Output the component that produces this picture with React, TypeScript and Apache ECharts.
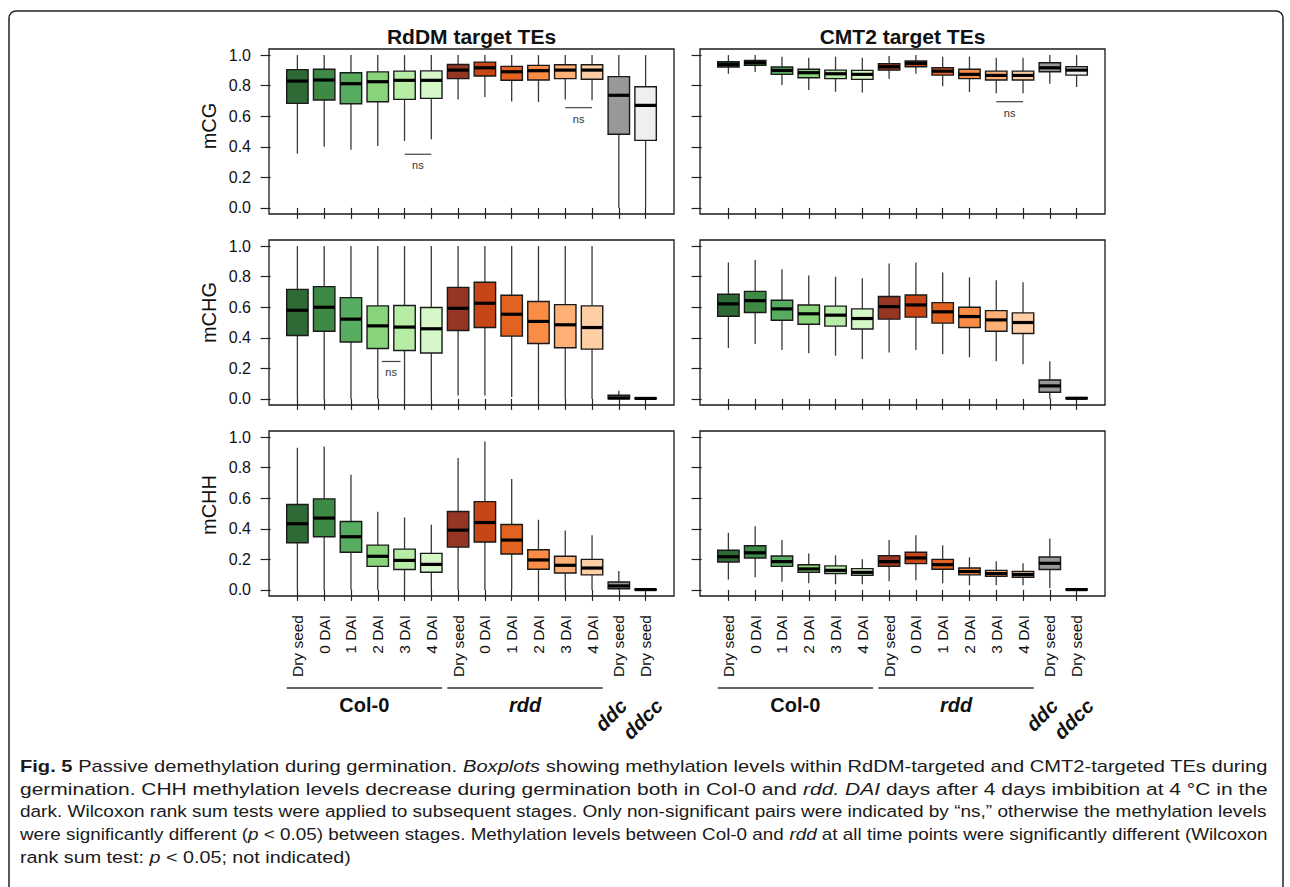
import React, { useEffect, useRef } from 'react';
import * as echarts from 'echarts';

// ---------- data ----------
const categories = ['Dry seed', '0 DAI', '1 DAI', '2 DAI', '3 DAI', '4 DAI', 'Dry seed', '0 DAI', '1 DAI', '2 DAI', '3 DAI', '4 DAI', 'Dry seed', 'Dry seed'];
const boxColors = ['#2d6a35', '#3e8a45', '#58ac60', '#89d47b', '#b6eca6', '#d6f8c9', '#963524', '#c84516', '#e2631f', '#fb8c45', '#feb077', '#fecfa4', '#98989a', '#efefef'];
const yTicks = [0, 0.2, 0.4, 0.6, 0.8, 1.0];
const panelTitles = ['RdDM target TEs', 'CMT2 target TEs'];
const rowNames = ['mCG', 'mCHG', 'mCHH'];
const groupNames = ['Col-0', 'rdd'];
const mutantNames = ['ddc', 'ddcc'];

// each box: [min, Q1, median, Q3, max]
const rddmCG = [
  [0.355, 0.684, 0.83, 0.905, 1.0], [0.40, 0.706, 0.837, 0.907, 1.0], [0.38, 0.682, 0.813, 0.885, 1.0],
  [0.405, 0.695, 0.826, 0.89, 1.0], [0.438, 0.71, 0.835, 0.895, 1.0], [0.449, 0.717, 0.835, 0.897, 1.0],
  [0.71, 0.846, 0.902, 0.939, 1.0], [0.726, 0.863, 0.917, 0.954, 1.0], [0.697, 0.835, 0.891, 0.926, 1.0],
  [0.693, 0.837, 0.898, 0.933, 1.0], [0.71, 0.846, 0.902, 0.937, 1.0], [0.704, 0.842, 0.902, 0.937, 1.0],
  [0, 0.482, 0.737, 0.859, 1.0], [0, 0.442, 0.671, 0.793, 1.0],
];
const cmt2CG = [
  [0.878, 0.922, 0.939, 0.957, 1.0], [0.889, 0.933, 0.95, 0.965, 1.0], [0.804, 0.874, 0.9, 0.922, 0.99],
  [0.771, 0.852, 0.885, 0.907, 0.983], [0.76, 0.846, 0.878, 0.902, 0.99], [0.756, 0.841, 0.874, 0.9, 0.983],
  [0.846, 0.902, 0.924, 0.944, 0.994], [0.878, 0.924, 0.946, 0.961, 1.0], [0.797, 0.869, 0.895, 0.917, 0.99],
  [0.758, 0.846, 0.874, 0.907, 0.99], [0.75, 0.837, 0.867, 0.895, 0.983], [0.75, 0.837, 0.867, 0.895, 0.983],
  [0.813, 0.891, 0.917, 0.95, 1.0], [0.791, 0.869, 0.902, 0.924, 1.0],
];
const rddmCHG = [
  [0, 0.415, 0.58, 0.717, 1.0], [0, 0.443, 0.6, 0.735, 1.0], [0, 0.372, 0.522, 0.663, 1.0],
  [0, 0.33, 0.478, 0.609, 1.0], [0, 0.317, 0.47, 0.611, 1.0], [0, 0.3, 0.459, 0.598, 1.0],
  [0.022, 0.448, 0.593, 0.73, 1.0], [0.022, 0.467, 0.626, 0.763, 1.0], [0.013, 0.411, 0.554, 0.678, 1.0],
  [0, 0.363, 0.507, 0.637, 1.0], [0, 0.335, 0.485, 0.617, 1.0], [0, 0.326, 0.467, 0.609, 1.0],
  [0, 0.0, 0.006, 0.024, 0.054], [0, 0.001, 0.003, 0.006, 0.01],
];
const cmt2CHG = [
  [0.333, 0.541, 0.622, 0.685, 0.893], [0.359, 0.565, 0.643, 0.704, 0.909], [0.32, 0.515, 0.589, 0.646, 0.848],
  [0.298, 0.489, 0.557, 0.615, 0.807], [0.283, 0.476, 0.548, 0.607, 0.8], [0.261, 0.457, 0.526, 0.589, 0.789],
  [0.304, 0.522, 0.604, 0.67, 0.887], [0.32, 0.535, 0.615, 0.68, 0.893], [0.293, 0.496, 0.57, 0.63, 0.828],
  [0.272, 0.467, 0.539, 0.6, 0.796], [0.246, 0.443, 0.517, 0.578, 0.776], [0.226, 0.428, 0.5, 0.563, 0.763],
  [0, 0.043, 0.085, 0.124, 0.246], [0, 0.001, 0.004, 0.008, 0.013],
];
const rddmCHH = [
  [0, 0.309, 0.433, 0.559, 0.93], [0, 0.348, 0.47, 0.596, 0.939], [0, 0.246, 0.348, 0.448, 0.754],
  [0, 0.154, 0.22, 0.293, 0.511], [0, 0.133, 0.193, 0.267, 0.474], [0, 0.115, 0.167, 0.239, 0.426],
  [0, 0.28, 0.391, 0.513, 0.863], [0, 0.313, 0.441, 0.578, 0.972], [0, 0.235, 0.326, 0.428, 0.726],
  [0, 0.135, 0.196, 0.263, 0.459], [0, 0.111, 0.161, 0.22, 0.389], [0, 0.098, 0.143, 0.2, 0.357],
  [0, 0.007, 0.026, 0.052, 0.124], [0, 0.0, 0.002, 0.005, 0.007],
];
const cmt2CHH = [
  [0.067, 0.183, 0.217, 0.259, 0.374], [0.083, 0.209, 0.243, 0.289, 0.417], [0.054, 0.154, 0.185, 0.222, 0.326],
  [0.043, 0.115, 0.137, 0.165, 0.239], [0.037, 0.107, 0.128, 0.157, 0.226], [0.037, 0.096, 0.115, 0.139, 0.2],
  [0.057, 0.154, 0.185, 0.224, 0.326], [0.063, 0.172, 0.209, 0.246, 0.357], [0.043, 0.135, 0.165, 0.2, 0.293],
  [0.03, 0.098, 0.12, 0.143, 0.213], [0.03, 0.089, 0.107, 0.128, 0.187], [0.03, 0.083, 0.1, 0.12, 0.174],
  [0.011, 0.133, 0.174, 0.215, 0.337], [0, 0.0, 0.002, 0.005, 0.007],
];
// non-significant pairs: [panel, xFrom, xTo, y]
const nsMarks = [
  [0, 5, 6, 0.351],
  [0, 11, 12, 0.656],
  [1, 11, 12, 0.695],
  [2, 4.15, 4.85, 0.245],
];
// group underline spans in x units
const groupSpans = [[0.6, 6.4], [6.6, 12.4]];

const captionLines: string[][][] = [
  [['b', 'Fig. 5'], ['n', ' Passive demethylation during germination. '], ['i', 'Boxplots'], ['n', ' showing methylation levels within RdDM-targeted and CMT2-targeted TEs during']],
  [['n', 'germination. CHH methylation levels decrease during germination both in Col-0 and '], ['i', 'rdd.'], ['n', ' '], ['i', 'DAI'], ['n', ' days after 4 days imbibition at 4 °C in the']],
  [['n', 'dark. Wilcoxon rank sum tests were applied to subsequent stages. Only non-significant pairs were indicated by “ns,” otherwise the methylation levels']],
  [['n', 'were significantly different ('], ['i', 'p'], ['n', ' < 0.05) between stages. Methylation levels between Col-0 and '], ['i', 'rdd'], ['n', ' at all time points were significantly different (Wilcoxon']],
  [['n', 'rank sum test: '], ['i', 'p'], ['n', ' < 0.05; not indicated)']],
];

// ---------- layout ----------
const FONT = 'Liberation Sans, Arial, Helvetica, sans-serif';
const CAP_FONT = 'Liberation Sans Narrow, Liberation Sans, Arial, sans-serif';
const X_MIN = -0.06, X_MAX = 15.06, Y_MIN = -0.04, Y_MAX = 1.04;
const COL_LEFT = [269, 700];
const ROW_TOP = [49, 240, 431];
const GRID_W = 405, GRID_H = 165;
const BOX_W = 0.8;
const CAP_SIZE = 17;
const CAP_X = 20, CAP_RIGHT = 1268;
const CAP_Y = [766, 789, 811, 834, 857];

const panels = [rddmCG, cmt2CG, rddmCHG, cmt2CHG, rddmCHH, cmt2CHH];
const xTickVals = categories.map((_, i) => i + 1);

function renderBox(params: any, api: any) {
  const x = api.value(0);
  const pMin = api.coord([x, api.value(1)]);
  const pQ1 = api.coord([x, api.value(2)]);
  const pMed = api.coord([x, api.value(3)]);
  const pQ3 = api.coord([x, api.value(4)]);
  const pMax = api.coord([x, api.value(5)]);
  const hw = api.size([BOX_W, 0])[0] / 2;
  const cx = pMed[0];
  const color = boxColors[params.dataIndex];
  const wStyle = { stroke: '#3a3a3a', lineWidth: 1.3 };
  return {
    type: 'group',
    children: [
      { type: 'line', shape: { x1: cx, y1: pMax[1], x2: cx, y2: pQ3[1] }, style: wStyle },
      { type: 'line', shape: { x1: cx, y1: pQ1[1], x2: cx, y2: pMin[1] }, style: wStyle },
      { type: 'rect', shape: { x: cx - hw, y: pQ3[1], width: 2 * hw, height: Math.max(pQ1[1] - pQ3[1], 0.5) }, style: { fill: color, stroke: '#1a1a1a', lineWidth: 1.4 } },
      { type: 'line', shape: { x1: cx - hw, y1: pMed[1], x2: cx + hw, y2: pMed[1] }, style: { stroke: '#000', lineWidth: 3.2 } },
    ],
  };
}

function renderNs(params: any, api: any) {
  const a = api.coord([api.value(0), api.value(2)]);
  const b = api.coord([api.value(1), api.value(2)]);
  return {
    type: 'group',
    children: [
      { type: 'line', shape: { x1: a[0], y1: a[1], x2: b[0], y2: b[1] }, style: { stroke: '#444', lineWidth: 1.2 } },
      { type: 'text', x: (a[0] + b[0]) / 2, y: a[1] + 11, style: { text: 'ns', textAlign: 'center', textVerticalAlign: 'middle', fontFamily: FONT, fontSize: 11, fill: '#333' } },
    ],
  };
}

function xPix(col: number, v: number) {
  return COL_LEFT[col] + ((v - X_MIN) / (X_MAX - X_MIN)) * GRID_W;
}

export default function App() {
  const ref = useRef<HTMLDivElement>(null);
  useEffect(() => {
    if (!ref.current) return;
    const chart = echarts.init(ref.current, undefined, { renderer: 'svg' });

    const grids: any[] = [];
    const xAxes: any[] = [];
    const yAxes: any[] = [];
    const series: any[] = [];
    panels.forEach((vals, p) => {
      const r = Math.floor(p / 2);
      const c = p % 2;
      grids.push({ left: COL_LEFT[c], top: ROW_TOP[r], width: GRID_W, height: GRID_H, show: true, borderColor: '#1a1a1a', borderWidth: 1.3, backgroundColor: 'transparent', containLabel: false, outerBoundsMode: 'none' });
      xAxes.push({
        type: 'value', gridIndex: p, min: X_MIN, max: X_MAX,
        axisLine: { show: false }, splitLine: { show: false },
        axisTick: { show: true, length: 11, customValues: xTickVals, lineStyle: { color: '#222', width: 1.2 } },
        axisLabel: r === 2 ? {
          show: true, customValues: xTickVals, rotate: 90, margin: 19, color: '#111', fontSize: 15.5, fontFamily: FONT,
          formatter: (v: number) => categories[Math.round(v) - 1] ?? '',
        } : { show: false },
      });
      yAxes.push({
        type: 'value', gridIndex: p, min: Y_MIN, max: Y_MAX,
        axisLine: { show: false }, splitLine: { show: false },
        axisTick: { show: true, length: 10, customValues: yTicks, lineStyle: { color: '#222', width: 1.2 } },
        axisLabel: c === 0 ? {
          show: true, customValues: yTicks, margin: 18, color: '#111', fontSize: 16, fontFamily: FONT,
          formatter: (v: number) => v.toFixed(1),
        } : { show: false },
      });
      series.push({
        type: 'custom', xAxisIndex: p, yAxisIndex: p,
        data: vals.map((v, i) => [i + 1, ...v]),
        encode: { x: 0, y: [1, 2, 3, 4, 5] },
        renderItem: renderBox,
        silent: true,
      });
      const ns = nsMarks.filter((m) => m[0] === p).map((m) => [m[1], m[2], m[3]]);
      if (ns.length) {
        series.push({
          type: 'custom', xAxisIndex: p, yAxisIndex: p,
          data: ns, encode: { x: [0, 1], y: 2 },
          renderItem: renderNs, silent: true,
        });
      }
    });

    const graphic: any[] = [];
    // frame
    graphic.push({ type: 'rect', shape: { x: 9, y: 11, width: 1274, height: 900, r: 7 }, style: { fill: 'none', stroke: '#222', lineWidth: 1.5 }, silent: true });
    // titles
    panelTitles.forEach((t, c) => {
      graphic.push({ type: 'text', x: COL_LEFT[c] + GRID_W / 2, y: 36, style: { text: t, textAlign: 'center', textVerticalAlign: 'middle', fontFamily: FONT, fontWeight: 'bold', fontSize: 21, fill: '#111' } });
    });
    // row names
    const rowNameY = [126, 312.5, 505];
    rowNames.forEach((t, r) => {
      graphic.push({ type: 'text', x: 209, y: rowNameY[r], rotation: Math.PI / 2, style: { text: t, textAlign: 'center', textVerticalAlign: 'middle', fontFamily: FONT, fontSize: 20, fill: '#111' } });
    });
    // group lines + labels
    [0, 1].forEach((c) => {
      groupSpans.forEach((s, g) => {
        const x1 = xPix(c, s[0]);
        const x2 = xPix(c, s[1]);
        graphic.push({ type: 'line', shape: { x1, y1: 688, x2, y2: 688 }, style: { stroke: '#333', lineWidth: 1.3 } });
        graphic.push({ type: 'text', x: (x1 + x2) / 2, y: 705, style: { text: groupNames[g], textAlign: 'center', textVerticalAlign: 'middle', fontFamily: FONT, fontWeight: 'bold', fontStyle: g === 1 ? 'italic' : 'normal', fontSize: 20, fill: '#111' } });
      });
      mutantNames.forEach((m, k) => {
        const cx = xPix(c, 13 + k) - (k === 0 ? 8 : 3);
        graphic.push({ type: 'text', x: cx, y: k === 0 ? 715 : 719, rotation: Math.PI / 4, style: { text: m, textAlign: 'center', textVerticalAlign: 'middle', fontFamily: FONT, fontWeight: 'bold', fontStyle: 'italic', fontSize: 20, fill: '#111' } });
      });
    });
    // caption
    const ctx = document.createElement('canvas').getContext('2d') as CanvasRenderingContext2D;
    const fontFor = (s: string) => `${s === 'i' ? 'italic ' : ''}${s === 'b' ? 'bold ' : ''}${CAP_SIZE}px ${CAP_FONT}`;
    const widths = captionLines.map((segs) => segs.reduce((w, [s, t]) => { ctx.font = fontFor(s); return w + ctx.measureText(t).width; }, 0));
    const scales = widths.map((w) => (CAP_RIGHT - CAP_X) / w);
    const avgScale = (scales[0] + scales[1] + scales[2] + scales[3]) / 4;
    captionLines.forEach((segs, li) => {
      const text = segs.map(([s, t]) => (s === 'n' ? t : `{${s}|${t}}`)).join('');
      graphic.push({
        type: 'text', x: CAP_X, y: CAP_Y[li], scaleX: li < 4 ? scales[li] : avgScale, originX: 0, originY: 0,
        style: {
          text, textAlign: 'left', textVerticalAlign: 'middle', fontFamily: CAP_FONT, fontSize: CAP_SIZE, fill: '#1a1a1a',
          rich: {
            b: { fontWeight: 'bold', fontFamily: CAP_FONT, fontSize: CAP_SIZE, fill: '#1a1a1a' },
            i: { fontStyle: 'italic', fontFamily: CAP_FONT, fontSize: CAP_SIZE, fill: '#1a1a1a' },
          },
        },
      });
    });

    chart.setOption({
      animation: false,
      backgroundColor: '#ffffff',
      grid: grids,
      xAxis: xAxes,
      yAxis: yAxes,
      series,
      graphic,
    });
    return () => chart.dispose();
  }, []);
  return <div ref={ref} style={{ position: 'absolute', left: 0, top: 0, width: 1290, height: 887 }} />;
}
